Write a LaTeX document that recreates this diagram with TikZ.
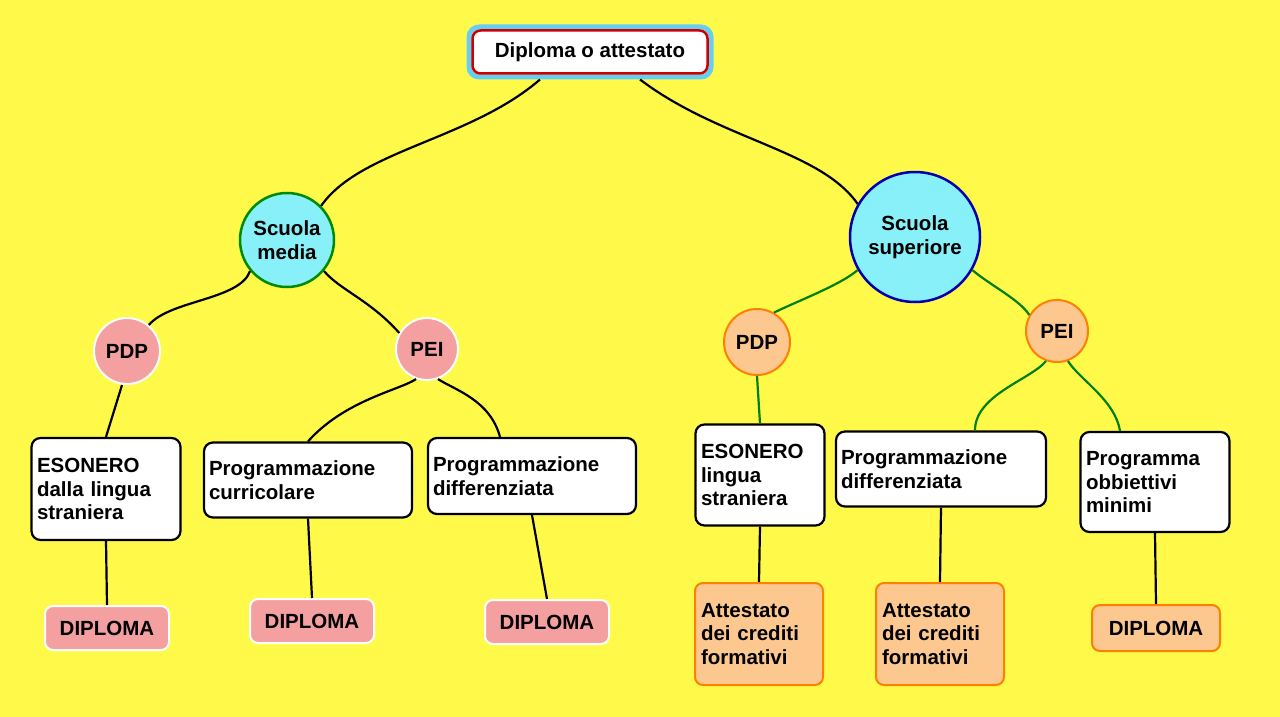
\documentclass[tikz,border=0pt]{standalone}
\usepackage{fontspec}
\setmainfont{Liberation Sans}
\definecolor{bg}{HTML}{FFFA4A}
\definecolor{cy}{HTML}{88F0F8}
\definecolor{pk}{HTML}{F4A0A0}
\definecolor{or}{HTML}{FCC890}
\begin{document}
\begin{tikzpicture}[x=1pt,y=-1pt,
  txt/.style={font=\bfseries\fontsize{20.5}{23.5}\selectfont,align=left,text=black},
  box/.style={txt,draw=black,line width=2.2pt,fill=white,rounded corners=9pt,inner sep=5pt},
  cyanc/.style={txt,circle,fill=cy,line width=2.5pt,align=center},
  pinkc/.style={txt,circle,fill=pk,draw=white,line width=2pt,minimum size=62pt,inner sep=0pt},
  orc/.style={txt,circle,fill=or,draw=orange,line width=2pt,minimum size=62pt,inner sep=0pt},
  pinkb/.style={txt,fill=pk,draw=white,line width=2pt,rounded corners=8pt,minimum height=44pt,minimum width=124pt,align=center},
  orb/.style={txt,fill=or,draw=orange,line width=2pt,rounded corners=8pt,minimum width=128pt},
  bl/.style={black,line width=2.2pt},
  gr/.style={green!50!black,line width=2.2pt}]
\fill[bg] (0,0) rectangle (1280,717);
\useasboundingbox (0,0) rectangle (1280,717);
\node[txt,draw=cyan!60,line width=5pt,rounded corners=10pt,minimum width=242pt,minimum height=50pt,inner sep=0pt] (top0) at (590,52) {};
\node[txt,draw=red!80!black,fill=white,line width=2.5pt,rounded corners=8pt,minimum width=235pt,minimum height=43pt] (top) at (590,52) {Diploma o attestato};
\node[cyanc,draw=green!55!black,minimum size=94pt,inner sep=0pt] (sm) at (287,240) {Scuola\\media};
\node[cyanc,draw=blue!70!black,minimum size=130pt,inner sep=0pt] (ss) at (915,237) {Scuola\\superiore};
\node[pinkc,minimum size=66pt] (pdp1) at (127,351) {PDP};
\node[pinkc] (pei1) at (427,349) {PEI};
\node[orc,minimum size=66pt] (pdp2) at (757,342) {PDP};
\node[orc] (pei2) at (1057,331) {PEI};
\node[box,minimum width=149pt,minimum height=102pt,text width=138pt] (e1) at (106,489) {ESONERO\\dalla lingua\\straniera};
\node[box,minimum width=208pt,minimum height=75pt,text width=198pt] (pc) at (308,480) {Programmazione\\curricolare};
\node[box,minimum width=208pt,minimum height=76pt,text width=198pt] (pd1) at (532,476) {Programmazione\\differenziata};
\node[box,minimum width=129pt,minimum height=101pt,text width=118pt] (e2) at (760,475) {ESONERO\\lingua\\straniera};
\node[box,minimum width=210pt,minimum height=75pt,text width=200pt] (pd2) at (941,469) {Programmazione\\differenziata};
\node[box,minimum width=149pt,minimum height=100pt,text width=138pt] (pom) at (1155,482) {Programma\\obbiettivi\\minimi};
\node[pinkb] (d1) at (107,628) {DIPLOMA};
\node[pinkb] (d2) at (312,621) {DIPLOMA};
\node[pinkb] (d3) at (547,622) {DIPLOMA};
\node[orb,minimum height=102pt,text width=116pt] (a1) at (759,634) {Attestato\\dei crediti\\formativi};
\node[orb,minimum height=102pt,text width=116pt] (a2) at (940,634) {Attestato\\dei crediti\\formativi};
\node[orb,minimum height=46pt] (d4) at (1156,628) {DIPLOMA};
\draw[bl] ([xshift=-50pt]top0.south) .. controls (470,140) and (360,150) .. (sm.45);
\draw[bl] ([xshift=50pt]top0.south) .. controls (720,140) and (820,150) .. (ss.150);
\draw[bl] (sm.220) .. controls (240,300) and (170,300) .. (pdp1.50);
\draw[bl] (sm.320) .. controls (340,290) and (370,300) .. (pei1.150);
\draw[bl] ([xshift=-5pt]pdp1.south) -- (e1.north);
\draw[bl] (pei1.250) .. controls (400,390) and (345,400) .. (pc.north);
\draw[bl] (pei1.290) .. controls (455,390) and (490,400) .. ([xshift=-32pt]pd1.north);
\draw[gr] (ss.210) .. controls (840,285) and (800,300) .. (pdp2.60);
\draw[gr] (ss.330) .. controls (990,285) and (1020,300) .. (pei2.150);
\draw[gr] (pdp2.south) -- (e2.north);
\draw[gr] (pei2.250) .. controls (1030,380) and (975,395) .. ([xshift=34pt]pd2.north);
\draw[gr] (pei2.290) .. controls (1080,380) and (1115,400) .. ([xshift=-35pt]pom.north);
\draw[bl] (e1.south) -- (d1.north);
\draw[bl] (pc.south) -- (d2.north);
\draw[bl] (pd1.south) -- (d3.north);
\draw[bl] (e2.south) -- (a1.north);
\draw[bl] (pd2.south) -- (a2.north);
\draw[bl] (pom.south) -- (d4.north);
\end{tikzpicture}
\end{document}
